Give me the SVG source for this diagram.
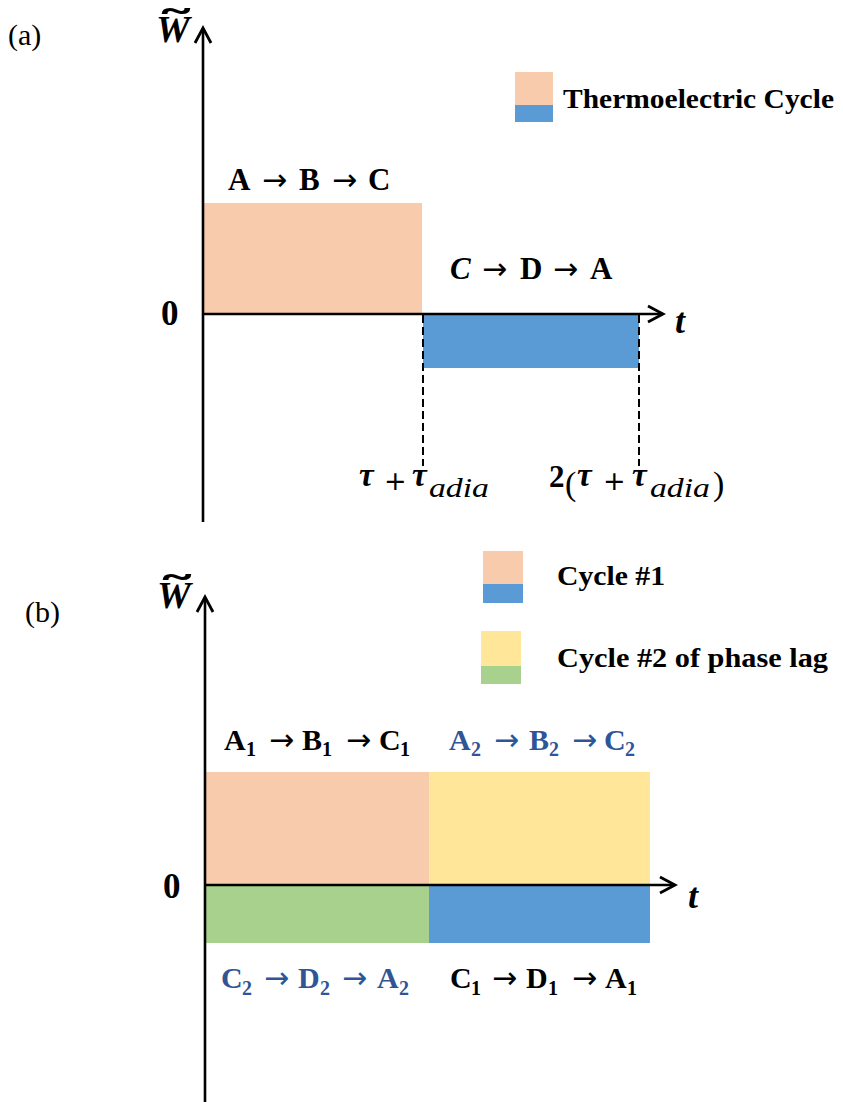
<svg xmlns="http://www.w3.org/2000/svg" width="843" height="1102" viewBox="0 0 843 1102">
<style>
.serif{font-family:"Liberation Serif","Times New Roman",serif;}
.b{font-weight:bold;}
.i{font-style:italic;}
.lbl{font-family:"Liberation Serif","Times New Roman",serif;font-weight:bold;font-size:31px;fill:#000;}
.lb2{font-size:30px;}
.ar{font-family:"DejaVu Sans",sans-serif;font-weight:normal;font-size:30px;}
.plus{font-family:"DejaVu Sans",sans-serif;font-size:27px;}
.blue{fill:#2F5597;}
.sub{font-size:20px;}
.tl{font-family:"DejaVu Sans",sans-serif;font-weight:bold;font-size:40px;}
.axis{stroke:#000;stroke-width:2.6;fill:none;}
.dash{stroke:#000;stroke-width:2;stroke-dasharray:8 4;fill:none;}
.peach{fill:#F8CBAD;}
.bl{fill:#5B9BD5;}
.yel{fill:#FFE699;}
.grn{fill:#A9D18E;}
</style>
<defs>
<marker id="arr" markerUnits="userSpaceOnUse" markerWidth="24" markerHeight="24" viewBox="-18 -12 24 24" refX="0" refY="0" orient="auto">
<path d="M-15,-8 L0,0 L-15,8" fill="none" stroke="#000" stroke-width="2.8" stroke-linejoin="miter"/>
</marker>
</defs>
<rect width="843" height="1102" fill="#fff"/>

<!-- Panel (a) -->
<g id="panel-a">
<text class="serif" x="8" y="45" font-size="30">(a)</text>
<g id="a-ylabel">
<text class="serif b i" x="156" y="42" font-size="38">W</text>
<text class="tl" x="0" y="0" text-anchor="middle" transform="translate(176,40) scale(2.1,1)">˜</text>
</g>
<g id="a-legend">
<rect class="peach" x="515" y="72" width="38" height="33"/>
<rect class="bl" x="515" y="105" width="38" height="17"/>
<text class="serif b" x="563" y="108" font-size="28" textLength="271" lengthAdjust="spacingAndGlyphs">Thermoelectric  Cycle</text>
</g>
<g id="a-ABC">
<rect class="peach" x="204" y="203" width="218" height="111"/>
<text class="lbl" y="190"><tspan x="228">A</tspan><tspan class="ar" x="262">→</tspan><tspan x="299">B</tspan><tspan class="ar" x="332">→</tspan><tspan x="368">C</tspan></text>
</g>
<g id="a-CDA">
<rect class="bl" x="423" y="314" width="216" height="54"/>
<text class="lbl" y="279"><tspan x="450" font-style="italic">C</tspan><tspan class="ar" x="482">→</tspan><tspan x="520">D</tspan><tspan class="ar" x="553">→</tspan><tspan x="590">A</tspan></text>
</g>
<text class="serif b" x="161" y="325" font-size="35">0</text>
<text class="serif b i" x="675" y="333" font-size="36">t</text>
<g id="a-ticks">
<text class="serif b i" x="359" y="486" font-size="33">τ</text>
<text class="plus" x="384" y="490">+</text>
<text class="serif b i" x="412" y="486" font-size="33">τ</text>
<text class="serif i" x="429" y="497" font-size="27" textLength="60" lengthAdjust="spacingAndGlyphs">adia</text>
<text class="serif b" x="549" y="487" font-size="31">2</text>
<text class="serif" x="565" y="495" font-size="34">(</text>
<text class="serif b i" x="577" y="486" font-size="33">τ</text>
<text class="plus" x="603" y="490">+</text>
<text class="serif b i" x="632" y="486" font-size="33">τ</text>
<text class="serif i" x="650" y="497" font-size="27" textLength="60" lengthAdjust="spacingAndGlyphs">adia</text>
<text class="serif" x="713" y="495" font-size="34">)</text>
</g>
</g>

<!-- Panel (b) -->
<g id="panel-b">
<text class="serif" x="25" y="622" font-size="30">(b)</text>
<g id="b-ylabel">
<text class="serif b i" x="157" y="608" font-size="38">W</text>
<text class="tl" x="0" y="0" text-anchor="middle" transform="translate(177,606) scale(2.1,1)">˜</text>
</g>
<g id="b-legend1">
<rect class="peach" x="483" y="551" width="40" height="33"/>
<rect class="bl" x="483" y="584" width="40" height="19"/>
<text class="serif b" x="557" y="585" font-size="28" textLength="108" lengthAdjust="spacingAndGlyphs">Cycle #1</text>
</g>
<g id="b-legend2">
<rect class="yel" x="481" y="631" width="40" height="35"/>
<rect class="grn" x="481" y="666" width="40" height="18"/>
<text class="serif b" x="557" y="667" font-size="28" textLength="271" lengthAdjust="spacingAndGlyphs">Cycle #2 of phase lag</text>
</g>
<g id="b-A1B1C1">
<rect class="peach" x="206" y="772" width="223" height="113"/>
<text class="lbl lb2" y="750"><tspan x="224">A</tspan><tspan class="sub" x="246" y="756">1</tspan><tspan class="ar" x="269" y="750">→</tspan><tspan x="302">B</tspan><tspan class="sub" x="322" y="756">1</tspan><tspan class="ar" x="346" y="750">→</tspan><tspan x="379">C</tspan><tspan class="sub" x="400" y="756">1</tspan></text>
</g>
<g id="b-A2B2C2">
<rect class="yel" x="429" y="772" width="221" height="113"/>
<text class="lbl lb2 blue" y="750"><tspan x="449">A</tspan><tspan class="sub" x="471" y="756">2</tspan><tspan class="ar" x="494" y="750">→</tspan><tspan x="529">B</tspan><tspan class="sub" x="549" y="756">2</tspan><tspan class="ar" x="572" y="750">→</tspan><tspan x="604">C</tspan><tspan class="sub" x="625" y="756">2</tspan></text>
</g>
<g id="b-C2D2A2">
<rect class="grn" x="206" y="886" width="223" height="57"/>
<text class="lbl lb2 blue" y="988"><tspan x="221">C</tspan><tspan class="sub" x="242" y="995">2</tspan><tspan class="ar" x="264" y="988">→</tspan><tspan x="298">D</tspan><tspan class="sub" x="320" y="995">2</tspan><tspan class="ar" x="342" y="988">→</tspan><tspan x="377">A</tspan><tspan class="sub" x="399" y="995">2</tspan></text>
</g>
<g id="b-C1D1A1">
<rect class="bl" x="429" y="886" width="221" height="57"/>
<text class="lbl lb2" y="988"><tspan x="450">C</tspan><tspan class="sub" x="471" y="995">1</tspan><tspan class="ar" x="492" y="988">→</tspan><tspan x="526">D</tspan><tspan class="sub" x="548" y="995">1</tspan><tspan class="ar" x="572" y="988">→</tspan><tspan x="605">A</tspan><tspan class="sub" x="627" y="995">1</tspan></text>
</g>
<text class="serif b" x="163" y="898" font-size="35">0</text>
<text class="serif b i" x="688" y="908" font-size="36">t</text>
</g>

<!-- Connectors: axes and guide lines -->
<g id="connectors">
<line class="axis" x1="203" y1="522" x2="203" y2="28" marker-end="url(#arr)"/>
<line class="axis" x1="203" y1="314" x2="663" y2="314" marker-end="url(#arr)"/>
<line class="dash" x1="423" y1="315" x2="423" y2="466"/>
<line class="dash" x1="639" y1="315" x2="639" y2="466"/>
<line class="axis" x1="205" y1="1102" x2="205" y2="597" marker-end="url(#arr)"/>
<line class="axis" x1="205" y1="885" x2="675" y2="885" marker-end="url(#arr)"/>
</g>
</svg>
